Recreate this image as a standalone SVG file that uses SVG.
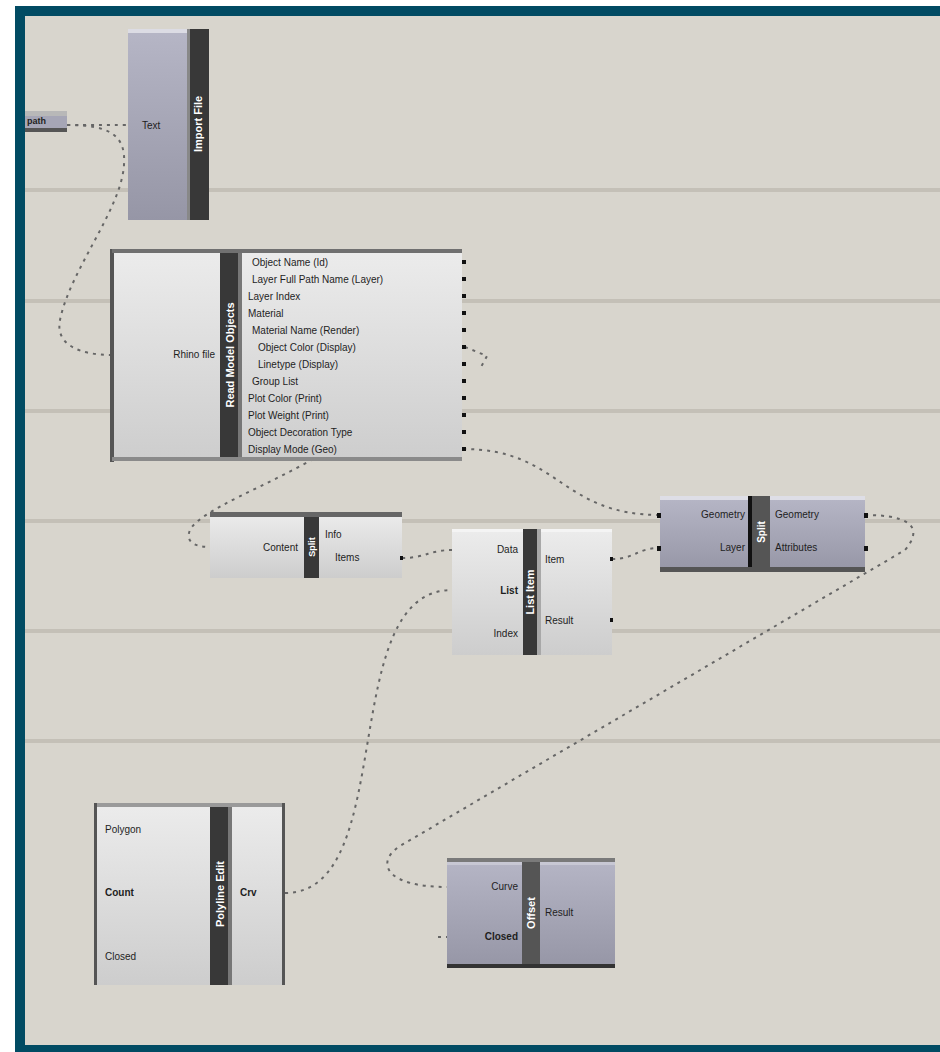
<svg xmlns="http://www.w3.org/2000/svg" width="940" height="1052" viewBox="0 0 940 1052">
<defs>
<linearGradient id="lav" x1="0" y1="0" x2="0" y2="1"><stop offset="0" stop-color="#b6b6c6"/><stop offset="1" stop-color="#9696a6"/></linearGradient>
<linearGradient id="light" x1="0" y1="0" x2="0" y2="1"><stop offset="0" stop-color="#ececec"/><stop offset="1" stop-color="#cdcdcd"/></linearGradient>
<style>
.lbl{font-family:"Liberation Sans",Arial,sans-serif;font-size:10px;fill:#1e1e1e}
.vt{font-family:"Liberation Sans",Arial,sans-serif;font-size:11px;font-weight:bold;fill:#ffffff}
.wire{fill:none;stroke:#666666;stroke-width:2;stroke-dasharray:3 5}
.strip{fill:#383838}
.port{fill:#111111}
.stripe{fill:#c4c0b7}
</style>
</defs>
<rect x="0" y="0" width="940" height="1052" fill="#ffffff"/>
<rect x="15" y="6" width="925" height="1046" fill="#014b63"/>
<rect x="25" y="16" width="915" height="1029" fill="#d8d5cd"/>
<g id="stripes">
<rect class="stripe" x="25" y="188" width="915" height="4"/>
<rect class="stripe" x="25" y="299" width="915" height="4"/>
<rect class="stripe" x="25" y="409" width="915" height="4"/>
<rect class="stripe" x="25" y="519" width="915" height="4"/>
<rect class="stripe" x="25" y="629" width="915" height="4"/>
<rect class="stripe" x="25" y="739" width="915" height="4"/>
</g>
<g id="connectors">
<path class="wire" d="M67,125 C90,125 105,125 128,125"/>
<path class="wire" d="M67,125 C110,125 126,135 124,165 C121,210 70,270 60,320 C55,345 80,355 112,355"/>
<path class="wire" d="M463,449 C560,449 560,515 660,515"/>
<path class="wire" d="M320,455 C270,485 200,510 190,530 C185,542 195,547 210,547"/>
<path class="wire" d="M465,347 L487,356 L481,367"/>
<path class="wire" d="M402,558 C425,558 430,550 452,550"/>
<path class="wire" d="M612,559 C635,559 637,548 660,548"/>
<path class="wire" d="M285,893 C400,893 335,590 452,590"/>
<path class="wire" d="M865,515 C915,515 922,530 905,550 L400,846 C375,862 385,887 447,887"/>
<path class="wire" d="M438,937 L447,937"/>
</g>
<g id="panel">
<rect x="25" y="111" width="42" height="21" fill="#a6a6b6"/>
<rect x="25" y="111" width="42" height="5" fill="#b8b8b8"/>
<rect x="25" y="128" width="42" height="4" fill="#555555"/>
<text class="lbl" x="27" y="124" style="font-weight:bold;font-size:9px">path</text>
</g>
<g id="nodeA">
<rect x="128" y="29" width="81" height="191" fill="url(#lav)"/>
<rect x="128" y="29" width="60" height="4" fill="#dcdce4"/>
<rect class="strip" x="187" y="29" width="22" height="191"/>
<rect x="187" y="29" width="3" height="191" fill="#888888"/>
<text class="vt" transform="translate(202,124) rotate(-90)" text-anchor="middle">Import File</text>
<text class="lbl" x="142" y="129">Text</text>
</g>
<g id="nodeB">
<rect x="112" y="250" width="350" height="211" fill="url(#light)"/>
<rect x="110" y="249" width="4" height="213" fill="#555555"/>
<rect x="112" y="249" width="350" height="4" fill="#707070"/>
<rect x="112" y="457" width="350" height="4" fill="#8a8a8a"/>
<rect class="strip" x="220" y="253" width="22" height="204"/>
<rect x="238" y="253" width="4" height="204" fill="#777777"/>
<text class="vt" transform="translate(234,355) rotate(-90)" text-anchor="middle">Read Model Objects</text>
<text class="lbl" x="215" y="358" text-anchor="end">Rhino file</text>
<text class="lbl" x="252" y="266">Object Name (Id)</text>
<text class="lbl" x="252" y="283">Layer Full Path Name (Layer)</text>
<text class="lbl" x="248" y="300">Layer Index</text>
<text class="lbl" x="248" y="317">Material</text>
<text class="lbl" x="252" y="334">Material Name (Render)</text>
<text class="lbl" x="258" y="351">Object Color (Display)</text>
<text class="lbl" x="258" y="368">Linetype (Display)</text>
<text class="lbl" x="252" y="385">Group List</text>
<text class="lbl" x="248" y="402">Plot Color (Print)</text>
<text class="lbl" x="248" y="419">Plot Weight (Print)</text>
<text class="lbl" x="248" y="436">Object Decoration Type</text>
<text class="lbl" x="248" y="453">Display Mode (Geo)</text>
<g class="port">
<rect x="462" y="260" width="4" height="4"/><rect x="462" y="277" width="4" height="4"/><rect x="462" y="294" width="4" height="4"/><rect x="462" y="311" width="4" height="4"/><rect x="462" y="328" width="4" height="4"/><rect x="462" y="345" width="4" height="4"/><rect x="462" y="362" width="4" height="4"/><rect x="462" y="379" width="4" height="4"/><rect x="462" y="396" width="4" height="4"/><rect x="462" y="413" width="4" height="4"/><rect x="462" y="430" width="4" height="4"/><rect x="462" y="447" width="4" height="4"/>
</g>
</g>
<g id="nodeC">
<rect x="210" y="513" width="192" height="65" fill="url(#light)"/>
<rect x="210" y="512" width="192" height="5" fill="#666666"/>
<rect class="strip" x="304" y="517" width="15" height="61"/>
<text class="vt" transform="translate(315,547) rotate(-90)" text-anchor="middle" style="font-size:9px">Split</text>
<text class="lbl" x="298" y="551" text-anchor="end">Content</text>
<text class="lbl" x="325" y="538">Info</text>
<text class="lbl" x="335" y="561">Items</text>
<rect class="port" x="400" y="556" width="3" height="4"/>
</g>
<g id="nodeD">
<rect x="452" y="529" width="160" height="126" fill="url(#light)"/>
<rect x="452" y="529" width="160" height="3" fill="#f4f4f4"/>
<rect class="strip" x="523" y="529" width="14" height="126"/>
<rect x="537" y="529" width="4" height="126" fill="#a8a8a8"/>
<text class="vt" transform="translate(534,592) rotate(-90)" text-anchor="middle">List Item</text>
<text class="lbl" x="518" y="553" text-anchor="end">Data</text>
<text class="lbl" x="518" y="594" text-anchor="end" style="font-weight:bold">List</text>
<text class="lbl" x="518" y="637" text-anchor="end">Index</text>
<text class="lbl" x="545" y="563">Item</text>
<text class="lbl" x="545" y="624">Result</text>
<rect class="port" x="610" y="557" width="3" height="4"/>
<rect class="port" x="610" y="618" width="3" height="4"/>
</g>
<g id="nodeE">
<rect x="660" y="497" width="205" height="75" fill="url(#lav)"/>
<rect x="660" y="496" width="205" height="4" fill="#dedee6"/>
<rect x="660" y="567" width="205" height="5" fill="#555555"/>
<rect x="748" y="496" width="4" height="71" fill="#111111"/>
<rect x="752" y="496" width="18" height="71" fill="#555555"/>
<text class="vt" transform="translate(765,532) rotate(-90)" text-anchor="middle" style="font-size:10px">Split</text>
<text class="lbl" x="745" y="518" text-anchor="end">Geometry</text>
<text class="lbl" x="745" y="551" text-anchor="end">Layer</text>
<text class="lbl" x="775" y="518">Geometry</text>
<text class="lbl" x="775" y="551">Attributes</text>
<rect class="port" x="657" y="513" width="4" height="5"/>
<rect class="port" x="657" y="546" width="4" height="5"/>
<rect class="port" x="864" y="513" width="4" height="5"/>
<rect class="port" x="864" y="546" width="4" height="5"/>
</g>
<g id="nodeF">
<rect x="95" y="803" width="190" height="182" fill="url(#light)"/>
<rect x="95" y="803" width="190" height="4" fill="#9a9a9a"/>
<rect x="94" y="803" width="3" height="182" fill="#555555"/>
<rect x="282" y="803" width="3" height="182" fill="#555555"/>
<rect class="strip" x="210" y="807" width="22" height="178"/>
<rect x="228" y="807" width="4" height="178" fill="#777777"/>
<text class="vt" transform="translate(224,894) rotate(-90)" text-anchor="middle">Polyline Edit</text>
<text class="lbl" x="105" y="833">Polygon</text>
<text class="lbl" x="105" y="896" style="font-weight:bold">Count</text>
<text class="lbl" x="105" y="960">Closed</text>
<text class="lbl" x="240" y="896" style="font-weight:bold">Crv</text>
</g>
<g id="nodeG">
<rect x="447" y="858" width="168" height="109" fill="url(#lav)"/>
<rect x="447" y="858" width="168" height="4" fill="#7a7a7a"/>
<rect x="447" y="862" width="168" height="3" fill="#c8c8d4"/>
<rect x="447" y="964" width="168" height="4" fill="#333333"/>
<rect x="522" y="862" width="18" height="102" fill="#555555"/>
<text class="vt" transform="translate(535,913) rotate(-90)" text-anchor="middle">Offset</text>
<text class="lbl" x="518" y="890" text-anchor="end">Curve</text>
<text class="lbl" x="518" y="940" text-anchor="end" style="font-weight:bold">Closed</text>
<text class="lbl" x="545" y="916">Result</text>
</g>
</svg>
